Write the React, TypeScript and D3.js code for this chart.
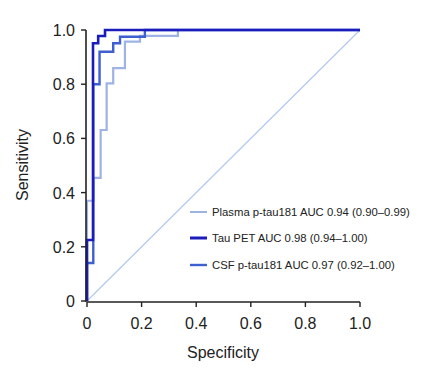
import React from "react";
import * as d3 from "d3";

const W = 421;
const H = 376;

type Pt = [number, number];

// [1 - specificity, sensitivity] step points
const plasmaPts: Pt[] = [
  [0, 0], [0, 0.37], [0.024, 0.37], [0.024, 0.454], [0.05, 0.454], [0.05, 0.631],
  [0.072, 0.631], [0.072, 0.803], [0.096, 0.803], [0.096, 0.859], [0.139, 0.859],
  [0.139, 0.957], [0.194, 0.957], [0.194, 0.978], [0.333, 0.978], [0.333, 1], [1, 1],
];
const csfPts: Pt[] = [
  [0, 0], [0, 0.14], [0.023, 0.14], [0.023, 0.8], [0.046, 0.8], [0.046, 0.92],
  [0.096, 0.92], [0.096, 0.951], [0.121, 0.951], [0.121, 0.975], [0.212, 0.975],
  [0.212, 1], [1, 1],
];
const tauPts: Pt[] = [
  [0, 0], [0, 0.225], [0.022, 0.225], [0.022, 0.951], [0.041, 0.951], [0.041, 0.978],
  [0.066, 0.978], [0.066, 1], [1, 1],
];
const diagPts: Pt[] = [[0, 0], [1, 1]];

const ticks = [0, 0.2, 0.4, 0.6, 0.8, 1.0];
const tickLabels = ["0", "0.2", "0.4", "0.6", "0.8", "1.0"];

const legendLabels = [
  "Plasma p-tau181 AUC 0.94 (0.90\u20130.99)",
  "Tau PET AUC 0.98 (0.94\u20131.00)",
  "CSF p-tau181 AUC 0.97 (0.92\u20131.00)",
];

const COL_PLASMA = "#9fb2e4";
const COL_TAU = "#1c1cbc";
const COL_CSF = "#3d5fd0";
const COL_DIAG = "#b3c9f0";

export default function App() {
  const x = d3.scaleLinear().domain([0, 1]).range([87, 360]);
  const y = d3.scaleLinear().domain([0, 1]).range([301, 30]);
  const line = d3
    .line<Pt>()
    .x((d) => x(d[0]))
    .y((d) => y(d[1]));

  const font = "'Liberation Sans', Arial, Helvetica, sans-serif";
  const legendY = [212, 238, 265];
  const legendCols = [COL_PLASMA, COL_TAU, COL_CSF];
  const legendW = [2, 3, 2.4];

  return (
    <svg
      width={W}
      height={H}
      style={{ position: "absolute", left: 0, top: 0, background: "#fff" }}
      fontFamily={font}
    >
      <rect x={0} y={0} width={W} height={H} fill="#fff" />
      <path d={line(diagPts) || ""} stroke={COL_DIAG} strokeWidth={1.2} fill="none" />
      <path d={line(plasmaPts) || ""} stroke={COL_PLASMA} strokeWidth={2.2} fill="none" />
      <path d={line(csfPts) || ""} stroke={COL_CSF} strokeWidth={2.4} fill="none" />
      <path d={line(tauPts) || ""} stroke={COL_TAU} strokeWidth={2.6} fill="none" />

      {/* axes */}
      <line x1={x(0)} x2={x(1)} y1={y(0) + 1} y2={y(0) + 1} stroke="#222" strokeWidth={1.6} />
      <line x1={x(0) - 1} x2={x(0) - 1} y1={y(0) + 1} y2={y(1)} stroke="#222" strokeWidth={1.6} />
      {ticks.map((t, i) => (
        <g key={"x" + i}>
          <line x1={x(t)} x2={x(t)} y1={y(0) + 1} y2={y(0) + 6} stroke="#222" strokeWidth={1.4} />
          <text x={x(t)} y={y(0) + 28} fontSize={16} textAnchor="middle" fill="#222">
            {tickLabels[i]}
          </text>
        </g>
      ))}
      {ticks.map((t, i) => (
        <g key={"y" + i}>
          <line x1={x(0) - 6} x2={x(0) - 1} y1={y(t)} y2={y(t)} stroke="#222" strokeWidth={1.4} />
          <text x={x(0) - 12} y={y(t) + 6} fontSize={16} textAnchor="end" fill="#222">
            {tickLabels[i]}
          </text>
        </g>
      ))}
      <text x={223} y={358} fontSize={16} textAnchor="middle" fill="#222">
        Specificity
      </text>
      <text
        transform={`translate(28,165) rotate(-90)`}
        fontSize={16}
        textAnchor="middle"
        fill="#222"
      >
        Sensitivity
      </text>

      {/* legend */}
      {legendLabels.map((lab, i) => (
        <g key={"l" + i}>
          <line
            x1={190}
            x2={207}
            y1={legendY[i]}
            y2={legendY[i]}
            stroke={legendCols[i]}
            strokeWidth={legendW[i]}
          />
          <text x={212} y={legendY[i] + 4} fontSize={11.3} fill="#222">
            {lab}
          </text>
        </g>
      ))}
    </svg>
  );
}
